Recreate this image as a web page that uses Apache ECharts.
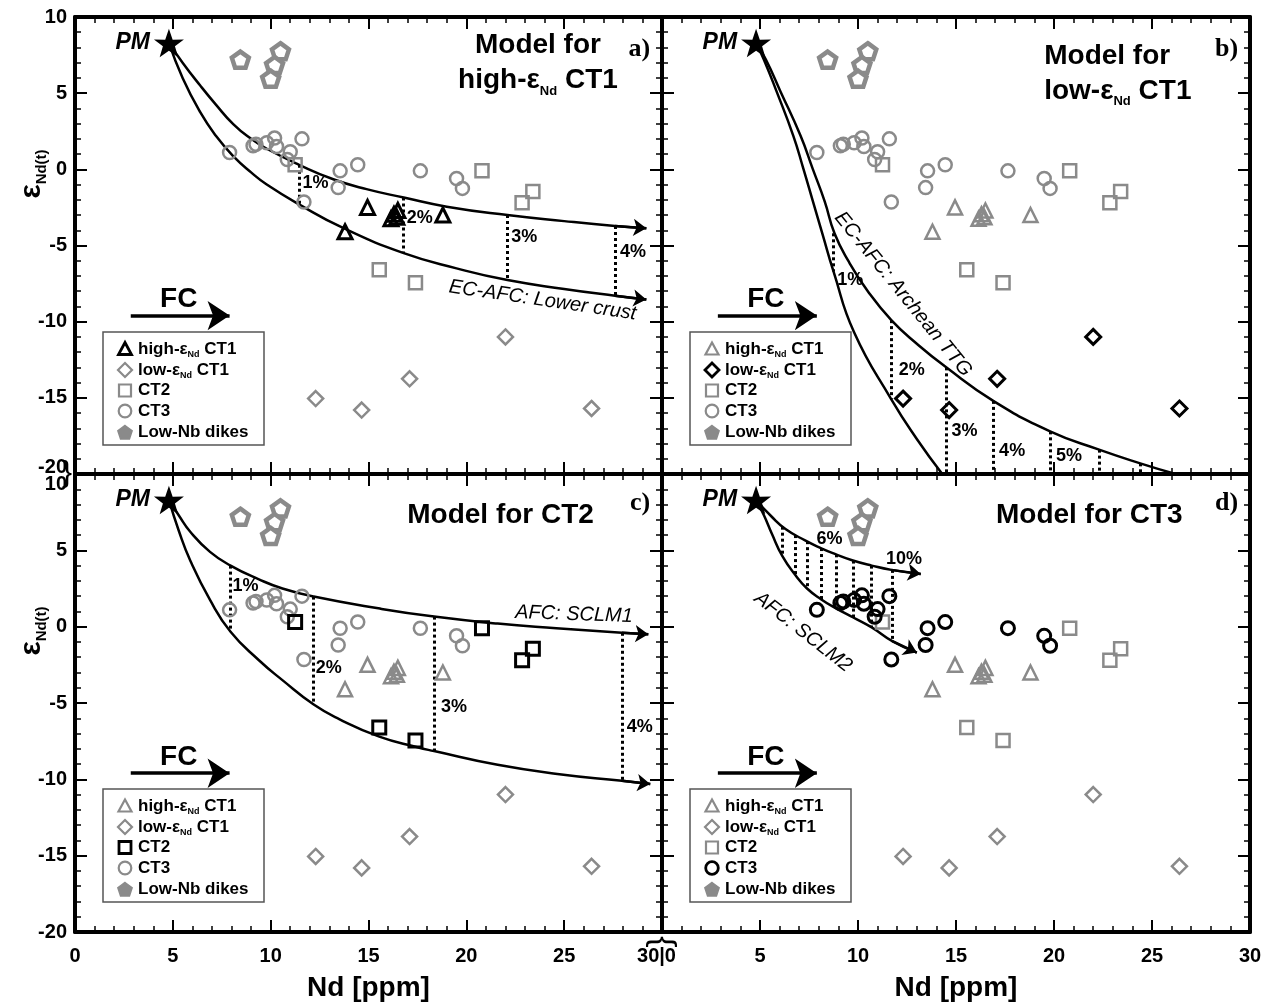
<!DOCTYPE html>
<html><head><meta charset="utf-8">
<script src="https://cdn.jsdelivr.net/npm/echarts@6/dist/echarts.min.js"></script>
<style>html,body{margin:0;padding:0;background:#fff}#main{width:1269px;height:1008px}</style>
</head><body><div id="main"></div>
<script>
// ================= DATA =================
const xRange = [0, 30];
const yRange = [-20, 10];
const pm = [[4.8, 8.3]];
const highCT1 = [[13.8,-4.1],[14.95,-2.5],[16.15,-3.25],[16.3,-2.95],[16.45,-3.15],[16.5,-2.7],[18.8,-3.0]];
const lowCT1 = [[12.3,-15.05],[14.65,-15.8],[17.1,-13.75],[22.0,-11.0],[26.4,-15.7]];
const ct2 = [[11.25,0.3],[20.8,-0.1],[22.85,-2.2],[23.4,-1.45],[15.55,-6.6],[17.4,-7.45]];
const ct3 = [[7.9,1.1],[9.1,1.55],[9.25,1.65],[9.8,1.75],[10.2,2.05],[10.3,1.5],[11.0,1.15],[10.85,0.65],[11.6,2.0],[11.7,-2.15],[13.55,-0.1],[13.45,-1.2],[14.45,0.3],[17.65,-0.1],[19.5,-0.6],[19.8,-1.25]];
const lowNb = [[8.45,7.2],[10.5,7.75],[10.2,6.85],[10.0,5.95]];

// model curves
const curveA1 = [[4.8,8.3],[5.5,7.0],[6.4,5.5],[7.2,4.25],[8.1,2.95],[9.0,2.0],[9.8,1.35],[11.45,0.3],[13.2,-0.65],[14.9,-1.3],[16.8,-1.85],[19.0,-2.45],[22.1,-3.0],[25.0,-3.4],[27.6,-3.72],[29.2,-3.87]];
const curveA2 = [[4.8,8.3],[5.5,6.0],[6.4,3.75],[7.2,2.2],[8.1,0.85],[9.0,-0.2],[9.8,-1.0],[11.45,-2.3],[13.7,-3.85],[16.8,-5.5],[19.5,-6.5],[22.1,-7.27],[25.0,-7.85],[27.6,-8.3],[29.2,-8.55]];
const curveB1 = [[4.8,8.3],[5.2,7.2],[5.85,5.1],[6.7,2.2],[7.2,0.1],[7.7,-2.1],[8.2,-4.3],[8.75,-6.7],[9.8,-10.7],[11.7,-15.1],[13.0,-17.7],[14.3,-20]];
const curveB2 = [[4.8,8.3],[5.3,7.2],[6.05,5.1],[7.07,2.2],[7.7,0.0],[8.3,-2.1],[8.8,-4.2],[9.5,-6.0],[10.5,-8.0],[11.7,-9.9],[13.0,-11.45],[14.5,-13.0],[16.9,-15.2],[19.8,-17.2],[22.3,-18.4],[24.4,-19.3],[26.2,-20]];
const curveC1 = [[4.8,8.3],[5.3,7.3],[5.9,6.2],[6.9,4.9],[7.95,4.0],[9.4,3.1],[10.6,2.5],[12.2,1.97],[15.5,1.2],[18.35,0.66],[21.6,0.2],[24.6,-0.1],[27.95,-0.4],[29.3,-0.5]];
const curveC2 = [[4.8,8.3],[5.3,6.3],[5.9,4.3],[6.9,1.75],[7.95,-0.33],[9.4,-2.2],[10.6,-3.5],[12.2,-5.1],[13.5,-6.05],[15.55,-7.2],[17.5,-7.9],[18.35,-8.15],[21.6,-9.05],[24.65,-9.65],[27.95,-10.1],[29.4,-10.3]];
const curveD1 = [[4.8,8.3],[5.6,7.2],[6.3,6.4],[7.3,5.65],[8.1,5.15],[8.85,4.75],[9.7,4.35],[10.7,4.0],[11.7,3.72],[13.2,3.45]];
const curveD2 = [[4.8,8.3],[5.2,7.3],[5.6,6.1],[6.15,4.6],[6.82,3.35],[7.4,2.5],[8.11,1.8],[8.88,1.2],[9.76,0.6],[10.7,-0.05],[11.75,-0.95],[13.0,-1.7]];

// tie lines [x, yTop, yBottom]
const tiesA = [[11.45,0.3,-2.3],[16.8,-1.85,-5.5],[22.1,-3.0,-7.27],[27.6,-3.72,-8.3]];
const tiesB = [[8.75,-4.2,-6.7],[11.7,-9.9,-15.1],[14.5,-13.0,-20],[16.9,-15.2,-20],[19.8,-17.2,-20],[22.3,-18.4,-20],[24.4,-19.3,-20]];
const tiesC = [[7.95,4.0,-0.33],[12.2,1.97,-5.1],[18.35,0.66,-8.15],[27.95,-0.4,-10.1]];
const tiesD = [[6.15,6.55,4.6],[6.82,6.0,3.35],[7.4,5.6,2.5],[8.11,5.15,1.8],[8.88,4.74,1.2],[9.76,4.33,0.6],[10.7,4.0,-0.05],[11.75,3.72,-0.95]];

// percentage labels [x, y, text]
const pctA = [[11.63,-0.92,'1%'],[16.95,-3.22,'2%'],[22.3,-4.43,'3%'],[27.85,-5.41,'4%']];
const pctB = [[8.94,-7.28,'1%'],[12.08,-13.15,'2%'],[14.77,-17.2,'3%'],[17.2,-18.5,'4%'],[20.1,-18.8,'5%']];
const pctC = [[8.05,2.63,'1%'],[12.3,-2.68,'2%'],[18.7,-5.26,'3%'],[28.2,-6.59,'4%']];
const pctD = [[7.88,5.72,'6%'],[11.43,4.46,'10%']];

// curve names [x, y, text, angle]
const curveNames = [
  [23.9,-8.6,'EC-AFC: Lower crust',-8.3],
  [12.3,-8.2,'EC-AFC: Archean TTG',-51],
  [25.5,0.8,'AFC: SCLM1',-2],
  [7.2,-0.35,'AFC: SCLM2',-38]
];
const titles = [
  {pos:[23.66,7.0], text:'Model for\nhigh-ε{s|Nd} CT1', align:'center'},
  {pos:[19.5,6.3], text:'Model for\nlow-ε{s|Nd} CT1', align:'left'},
  {pos:[21.75,7.3], text:'Model for CT2', align:'center'},
  {pos:[21.8,7.3], text:'Model for CT3', align:'center'}
];
const letters = [[29.4,7.9,'a)'],[29.4,7.9,'b)'],[29.4,8.1,'c)'],[29.4,8.1,'d)']];
const fcArrow = [[2.85,-9.6],[7.9,-9.6]];
const fcLabel = [5.3,-8.55];
const legendLabels = ['high-ε{s|Nd} CT1','low-ε{s|Nd} CT1','CT2','CT3','Low-Nb dikes'];
const legendKinds = ['tri','dia','sq','ci','pen'];

// ================= STYLE / LAYOUT =================
const FONT = "'Liberation Sans', Arial, Helvetica, sans-serif";
const SERIF = "'Liberation Serif', 'Times New Roman', serif";
const GREY = '#8a8a8a';
const G = [
  {left:75, top:17, width:587, height:457},
  {left:662, top:17, width:588, height:457},
  {left:75, top:474, width:587, height:458},
  {left:662, top:474, width:588, height:458}
];
const STAR = 'path://M50,0 L61.8,35.1 L97.6,34.5 L69.1,56.2 L79.4,90.5 L50,70 L20.6,90.5 L30.9,56.2 L2.4,34.5 L38.2,35.1 Z';
const PENT = 'path://M50,0 L97.6,34.5 L79.4,90.5 L20.6,90.5 L2.4,34.5 Z';

const panels = [
  {hl:'tri', curves:[curveA1,curveA2], arrows:true, ties:tiesA, pct:pctA},
  {hl:'dia', curves:[curveB1,curveB2], arrows:false, ties:tiesB, pct:pctB},
  {hl:'sq', curves:[curveC1,curveC2], arrows:true, ties:tiesC, pct:pctC},
  {hl:'ci', curves:[curveD1,curveD2], arrows:true, ties:tiesD, pct:pctD}
];

const labelBase = {fontFamily:FONT, fontWeight:'bold', fontSize:20, color:'#000'};

function makeAxis(i, dim, pos, showLabel, fmt, rich, name) {
  const isX = dim === 'x';
  return {
    gridIndex:i, type:'value', position:pos,
    min: isX ? xRange[0] : yRange[0], max: isX ? xRange[1] : yRange[1], interval:5,
    axisLine:{show:true, onZero:false, lineStyle:{color:'#000', width:4}},
    axisTick:{show:true, inside:true, length:12, lineStyle:{color:'#000', width:2}},
    minorTick:{show:true, splitNumber:5, length:6, lineStyle:{color:'#000', width:1.5}},
    splitLine:{show:false}, minorSplitLine:{show:false},
    axisLabel:Object.assign({show:showLabel, margin: isX ? 14 : 8, formatter:fmt, rich:rich||{}}, labelBase),
    name: name || '', nameLocation:'middle', nameGap:42,
    nameTextStyle:{fontFamily:FONT, fontWeight:'bold', fontSize:28, color:'#000'}
  };
}

const xAxes = [], yAxes = [];
for (let i = 0; i < 4; i++) {
  const bottomLabels = i >= 2;
  let xf = v => String(v);
  if (i === 2) xf = v => v === 30 ? '{r|30|0}' : String(v);
  if (i === 3) xf = v => v === 0 ? '' : String(v);
  xAxes.push(makeAxis(i,'x','bottom',bottomLabels,xf,{r:Object.assign({padding:[0,11,0,0]},{fontFamily:FONT,fontWeight:'bold',fontSize:20,color:'#000'})}, bottomLabels ? 'Nd [ppm]' : ''));
  xAxes.push(makeAxis(i,'x','top',false,null,null,''));
  const leftLabels = (i === 0 || i === 2);
  let yf = v => String(v);
  if (i === 0) yf = v => v === -20 ? '{u|-20}' : String(v);
  if (i === 2) yf = v => v === 10 ? '{d|10}' : String(v);
  const rb = {fontFamily:FONT,fontWeight:'bold',fontSize:20,color:'#000'};
  yAxes.push(makeAxis(i,'y','left',leftLabels,yf,{u:Object.assign({padding:[0,0,14,0]},rb), d:Object.assign({padding:[20,0,0,0]},rb)},''));
  yAxes.push(makeAxis(i,'y','right',false,null,null,''));
}

function txt(i, x, y, text, style, z) {
  return {type:'scatter', xAxisIndex:2*i, yAxisIndex:2*i, symbolSize:0, silent:true, z:z||10,
    data:[[x,y]], itemStyle:{opacity:1, color:'#000'},
    label:Object.assign({show:true, position:[0,0], formatter:text, color:'#000', opacity:1, fontFamily:FONT}, style)};
}

function points(i, data, symbol, size, hl, fill, bw) {
  return {type:'scatter', xAxisIndex:2*i, yAxisIndex:2*i, data, symbol, symbolSize:size, symbolKeepAspect:true, silent:true, z: hl?7:6,
    itemStyle:{color: fill || 'rgba(255,255,255,0)', borderColor: hl?'#000':GREY, borderWidth: bw || (hl?3:2.5), opacity:1}};
}

const series = [];
panels.forEach((p, i) => {
  const X = 2*i, Y = 2*i;
  p.curves.forEach(c => {
    series.push({type:'line', xAxisIndex:X, yAxisIndex:Y, data:c, smooth:0.5, showSymbol:false, silent:true, z:3,
      lineStyle:{color:'#000', width:2.5, opacity:1}});
    if (p.arrows) {
      series.push({type:'lines', coordinateSystem:'cartesian2d', xAxisIndex:X, yAxisIndex:Y, silent:true, z:3,
        data:[{coords:[c[c.length-2], c[c.length-1]]}], symbol:['none','arrow'], symbolSize:13,
        lineStyle:{color:'#000', width:2.5, opacity:1}});
    }
  });
  series.push({type:'lines', coordinateSystem:'cartesian2d', xAxisIndex:X, yAxisIndex:Y, silent:true, z:3,
    data:p.ties.map(t => ({coords:[[t[0],t[1]],[t[0],t[2]]]})), symbol:['none','none'],
    lineStyle:{color:'#000', width:3, type:[3,3], opacity:1}});
  p.pct.forEach(d => series.push(txt(i, d[0], d[1], d[2], {fontSize:18, fontWeight:'bold', align:'left', verticalAlign:'middle'})));
  const cn = curveNames[i];
  series.push(txt(i, cn[0], cn[1], cn[2], {fontSize:20, fontStyle:'italic', align:'center', verticalAlign:'middle', rotate:cn[3]}));
  // data
  series.push(points(i, lowNb, PENT, 17, false, '#fff', 4.5));
  series.push(points(i, ct3, 'circle', 13, p.hl==='ci'));
  series.push(points(i, ct2, 'rect', 13, p.hl==='sq'));
  series.push(points(i, lowCT1, 'diamond', 15, p.hl==='dia'));
  series.push(points(i, highCT1, 'triangle', 14, p.hl==='tri'));
  // PM
  series.push({type:'scatter', xAxisIndex:X, yAxisIndex:Y, data:pm, symbol:STAR, symbolSize:30, symbolKeepAspect:true, silent:true, z:8,
    itemStyle:{color:'#000', opacity:1},
    label:{show:true, position:'left', distance:4, formatter:'PM', color:'#000', fontFamily:FONT, fontWeight:'bold', fontStyle:'italic', fontSize:23}});
  // FC
  series.push({type:'lines', coordinateSystem:'cartesian2d', xAxisIndex:X, yAxisIndex:Y, silent:true, z:4,
    data:[{coords:fcArrow}], symbol:['none','arrow'], symbolSize:[18,22], lineStyle:{color:'#000', width:3.5, opacity:1}});
  series.push(txt(i, fcLabel[0], fcLabel[1], 'FC', {fontSize:28, fontWeight:'bold', align:'center', verticalAlign:'middle'}));
  // title
  const t = titles[i];
  series.push(txt(i, t.pos[0], t.pos[1], t.text, {fontSize:28, fontWeight:'bold', lineHeight:35, align:t.align, verticalAlign:'middle',
    rich:{s:{fontSize:13, fontWeight:'bold', fontFamily:FONT, color:'#000', lineHeight:35, verticalAlign:'bottom'}}}));
  const L = letters[i];
  series.push(txt(i, L[0], L[1], L[2], {fontSize:26, fontWeight:'bold', fontFamily:SERIF, align:'right', verticalAlign:'middle'}));
});

// ================= LEGENDS (graphic) =================
function legendMarker(kind, cx, cy, col, lw) {
  const st = {fill:'none', stroke:col, lineWidth:lw};
  if (kind === 'tri') return {type:'polygon', shape:{points:[[cx,cy-6.5],[cx+6.5,cy+5.5],[cx-6.5,cy+5.5]]}, style:st};
  if (kind === 'dia') return {type:'polygon', shape:{points:[[cx,cy-7],[cx+7,cy],[cx,cy+7],[cx-7,cy]]}, style:st};
  if (kind === 'sq') return {type:'rect', shape:{x:cx-6,y:cy-6,width:12,height:12}, style:st};
  if (kind === 'ci') return {type:'circle', shape:{cx:cx,cy:cy,r:6.3}, style:st};
  const pts = [];
  for (let k = 0; k < 5; k++) { const a = -Math.PI/2 + k*2*Math.PI/5; pts.push([cx+7.5*Math.cos(a), cy+1+7.5*Math.sin(a)]); }
  return {type:'polygon', shape:{points:pts}, style:{fill:GREY, stroke:GREY, lineWidth:1.5}};
}
const rowY = [17, 38, 58.5, 79, 100];
const graphics = [];
panels.forEach((p, i) => {
  const g = G[i];
  const children = [{type:'rect', shape:{x:0,y:0,width:161,height:113}, style:{fill:'#fff', stroke:'#555', lineWidth:1.5}}];
  legendKinds.forEach((k, r) => {
    const hl = k === p.hl;
    children.push(legendMarker(k, 22, rowY[r], hl ? '#000' : GREY, hl ? 2.8 : 2.2));
    children.push({type:'text', x:35, y:rowY[r], style:{text:legendLabels[r], fill:'#000', fontFamily:FONT, fontWeight:'bold', fontSize:17,
      lineHeight:20, align:'left', verticalAlign:'middle',
      rich:{s:{fontSize:9, fontWeight:'bold', fontFamily:FONT, fill:'#000', lineHeight:20, verticalAlign:'bottom'}}}});
  });
  graphics.push({type:'group', x:g.left+28, y:g.top+315, z:100, children});
});
// y-axis names
[0, 2].forEach(i => {
  graphics.push({type:'text', x:32, y:G[i].top+157, rotation:Math.PI/2, z:100,
    style:{text:'{e|ε}{s|Nd(t)}', align:'center', verticalAlign:'middle', fill:'#000',
      rich:{e:{fontSize:30, fontWeight:'bold', fontFamily:FONT, fill:'#000', lineHeight:34},
            s:{fontSize:15, fontWeight:'bold', fontFamily:FONT, fill:'#000', lineHeight:34, verticalAlign:'bottom'}}}});
});
// braces
graphics.push({type:'text', x:67, y:G[2].top, z:100, style:{text:'}', fontSize:30, fontFamily:FONT, fill:'#000', align:'center', verticalAlign:'middle'}});
graphics.push({type:'text', x:G[1].left, y:G[2].top+G[2].height+10, rotation:-Math.PI/2, z:100, style:{text:'{', fontSize:34, fontFamily:FONT, fill:'#000', align:'center', verticalAlign:'middle'}});

const chart = echarts.init(document.getElementById('main'), null, {renderer:'canvas'});
chart.setOption({
  animation:false,
  backgroundColor:'#fff',
  grid:G.map(g => Object.assign({containLabel:false, outerBoundsMode:'none'}, g)),
  xAxis:xAxes,
  yAxis:yAxes,
  series:series,
  graphic:graphics
});
</script></body></html>
